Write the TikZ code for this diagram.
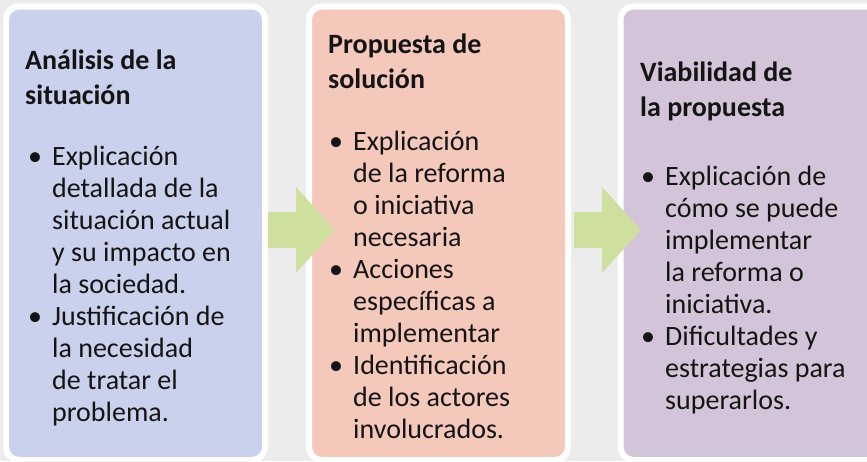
\documentclass[tikz,border=0pt]{standalone}
\usepackage{fontspec}
\setmainfont{Carlito}
\usetikzlibrary{positioning,calc}
\definecolor{PageGray}{RGB}{236,236,236}
\definecolor{SoftBlue}{RGB}{201,209,236}
\definecolor{SoftSalmon}{RGB}{245,200,188}
\definecolor{SoftLilac}{RGB}{211,196,218}
\definecolor{SoftGreen}{RGB}{207,223,158}
\definecolor{Ink}{RGB}{20,20,20}
\tikzset{
  panel/.style={draw=white,line width=6pt,rounded corners=13pt,minimum width=259pt,minimum height=453.5pt,inner sep=0pt},
  analysis/.style={panel,fill=SoftBlue},
  proposal/.style={panel,fill=SoftSalmon},
  viability/.style={panel,fill=SoftLilac},
  heading/.style={anchor=base west,inner sep=0pt,text=Ink,font=\fontsize{28}{35}\selectfont\bfseries},
  points/.style={anchor=base west,inner sep=0pt,text=Ink,font=\fontsize{28}{32}\selectfont},
  stepper/.style={fill=SoftGreen}
}
\newcommand{\pointlist}[1]{\begin{tabular}[t]{@{}p{24pt}@{}l@{}}#1\end{tabular}}
\newcommand{\headlist}[1]{\begin{tabular}[t]{@{}l@{}}#1\end{tabular}}

\begin{document}
\begin{tikzpicture}[x=1pt,y=-1pt]
  \fill[PageGray] (0,0) rectangle (867,461);
  \useasboundingbox (0,0) rectangle (867,461);
  \node[analysis] (ana) at (135.5,233.25) {};
  \node[proposal] (pro) at (438.5,233.25) {};
  \node[viability] (via) at (750,233.25) {};
  \coordinate (a1) at (ana.east |- 0,230);
  \coordinate (a2) at ($(pro.east |- 0,230)+(3,0)$);
  \foreach \c in {a1,a2}
    \fill[stepper] (\c) ++(0,-18) -- ++(28,0) -- ++(0,-25) -- ++(39,43) -- ++(-39,43) -- ++(0,-25) -- ++(-28,0) -- cycle;
  \node[heading] (anah) at (25,69) {\headlist{Análisis de la\\situación}};
  \node[points] (anap) at (28,165) {\pointlist{%
    \textbullet & Explicación\\
    & detallada de la\\
    & situación actual\\
    & y su impacto en\\
    & la sociedad.\\
    \textbullet & Justificación de\\
    & la necesidad\\
    & de tratar el\\
    & problema.}};
  \node[heading] (proh) at (328,53) {\headlist{Propuesta de\\solución}};
  \node[points] (prop) at (329,150) {\pointlist{%
    \textbullet & Explicación\\
    & de la reforma\\
    & o iniciativa\\
    & necesaria\\
    \textbullet & Acciones\\
    & específicas a\\
    & implementar\\
    \textbullet & Identificación\\
    & de los actores\\
    & involucrados.}};
  \node[heading] (viah) at (640,81) {\headlist{Viabilidad de\\la propuesta}};
  \node[points] (viap) at (641,185) {\pointlist{%
    \textbullet & Explicación de\\
    & cómo se puede\\
    & implementar\\
    & la reforma o\\
    & iniciativa.\\
    \textbullet & Dificultades y\\
    & estrategias para\\
    & superarlos.}};
\end{tikzpicture}
\end{document}
